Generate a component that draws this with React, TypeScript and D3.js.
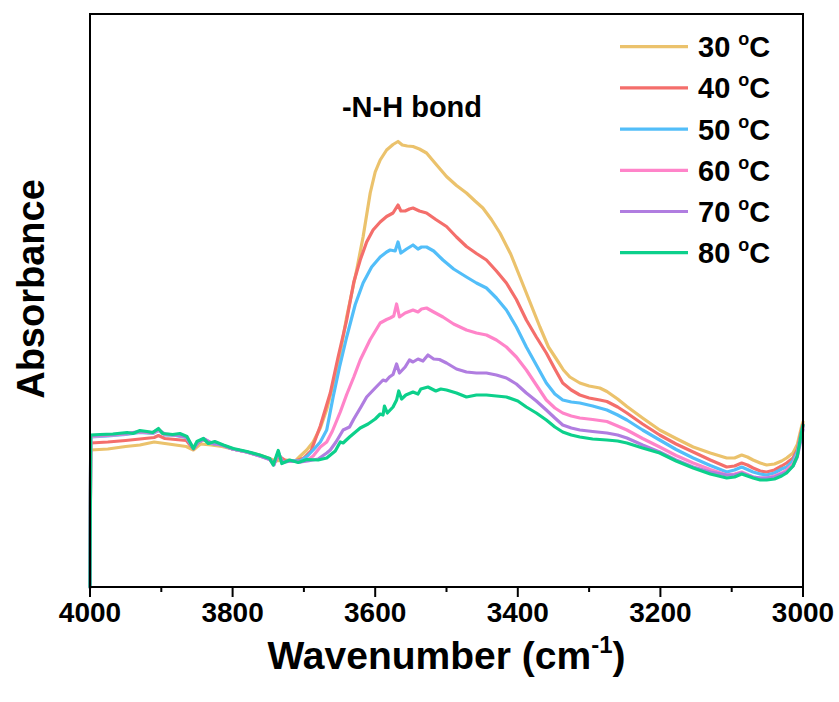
import React from "react";
import * as d3 from "d3";

type Pt = [number, number];

const seriesLabels = ["30", "40", "50", "60", "70", "80"];
const seriesColors = ["#EBC26C", "#F46E6B", "#52BEF9", "#FF84C9", "#B07DE0", "#0CD08B"];

const xTicksMajor = [4000, 3800, 3600, 3400, 3200, 3000];
const xTicksMinor = [3900, 3700, 3500, 3300, 3100];

const s30: Pt[] = [[4000,0],[3999,0.274],[3975,0.276],[3950,0.281],[3930,0.284],[3910,0.290],[3900,0.288],[3885,0.285],[3865,0.281],[3855,0.274],[3845,0.286],[3830,0.284],[3815,0.281],[3800,0.276],[3780,0.270],[3762,0.264],[3748,0.257],[3740,0.252],[3725,0.254],[3712,0.252],[3705,0.262],[3696,0.274],[3687,0.290],[3677,0.318],[3668,0.355],[3660,0.400],[3649,0.468],[3640,0.540],[3626,0.634],[3617,0.700],[3607,0.788],[3600,0.830],[3593,0.854],[3584,0.874],[3575,0.885],[3568,0.891],[3562,0.884],[3555,0.882],[3547,0.881],[3538,0.876],[3528,0.868],[3515,0.846],[3500,0.821],[3486,0.803],[3472,0.788],[3460,0.772],[3449,0.758],[3437,0.735],[3425,0.708],[3410,0.666],[3397,0.620],[3383,0.570],[3369,0.520],[3357,0.480],[3345,0.454],[3336,0.434],[3327,0.420],[3313,0.408],[3300,0.402],[3285,0.398],[3275,0.391],[3260,0.376],[3247,0.361],[3225,0.338],[3201,0.314],[3178,0.297],[3154,0.280],[3130,0.268],[3107,0.258],[3096,0.258],[3086,0.264],[3078,0.260],[3070,0.254],[3060,0.248],[3051,0.244],[3040,0.246],[3030,0.252],[3023,0.258],[3014,0.268],[3008,0.285],[3002,0.321],[3000,0.330]];

const s40: Pt[] = [[4000,0],[3999,0.288],[3975,0.290],[3950,0.293],[3930,0.296],[3910,0.299],[3904,0.303],[3895,0.297],[3880,0.295],[3865,0.293],[3855,0.276],[3848,0.289],[3840,0.295],[3830,0.287],[3815,0.284],[3800,0.276],[3780,0.270],[3762,0.263],[3748,0.256],[3742,0.248],[3735,0.262],[3725,0.252],[3712,0.252],[3700,0.258],[3690,0.272],[3677,0.322],[3663,0.388],[3652,0.460],[3640,0.534],[3630,0.610],[3621,0.654],[3612,0.690],[3603,0.714],[3593,0.730],[3584,0.741],[3575,0.748],[3568,0.764],[3564,0.752],[3558,0.752],[3552,0.756],[3547,0.758],[3538,0.752],[3528,0.748],[3515,0.735],[3500,0.721],[3486,0.700],[3472,0.681],[3458,0.667],[3444,0.654],[3430,0.632],[3416,0.608],[3402,0.575],[3388,0.534],[3374,0.500],[3360,0.468],[3348,0.436],[3337,0.408],[3325,0.394],[3313,0.384],[3300,0.378],[3285,0.374],[3275,0.371],[3260,0.360],[3247,0.348],[3225,0.326],[3201,0.304],[3178,0.286],[3154,0.270],[3130,0.254],[3107,0.240],[3096,0.242],[3086,0.248],[3078,0.244],[3070,0.238],[3060,0.232],[3051,0.230],[3040,0.234],[3030,0.242],[3023,0.248],[3014,0.258],[3008,0.275],[3002,0.314],[3000,0.325]];

const s50: Pt[] = [[4000,0],[3999,0.300],[3975,0.302],[3950,0.305],[3930,0.309],[3912,0.307],[3904,0.313],[3895,0.304],[3880,0.303],[3865,0.299],[3855,0.277],[3848,0.290],[3840,0.296],[3830,0.287],[3815,0.284],[3800,0.276],[3780,0.270],[3762,0.263],[3748,0.256],[3742,0.246],[3736,0.268],[3730,0.250],[3718,0.253],[3705,0.252],[3695,0.262],[3687,0.274],[3677,0.290],[3668,0.314],[3659,0.380],[3650,0.440],[3640,0.500],[3628,0.565],[3617,0.608],[3605,0.640],[3593,0.660],[3584,0.670],[3579,0.674],[3572,0.672],[3568,0.690],[3564,0.668],[3556,0.676],[3547,0.684],[3540,0.676],[3535,0.680],[3528,0.680],[3518,0.672],[3505,0.654],[3490,0.636],[3472,0.620],[3458,0.608],[3444,0.598],[3430,0.578],[3416,0.554],[3402,0.520],[3388,0.480],[3374,0.444],[3360,0.408],[3348,0.386],[3337,0.374],[3325,0.370],[3313,0.368],[3295,0.362],[3275,0.354],[3260,0.344],[3247,0.334],[3225,0.314],[3201,0.294],[3178,0.275],[3154,0.258],[3130,0.243],[3107,0.230],[3096,0.234],[3086,0.240],[3078,0.235],[3070,0.230],[3060,0.226],[3051,0.224],[3040,0.228],[3030,0.236],[3023,0.240],[3014,0.252],[3008,0.270],[3002,0.310],[3000,0.322]];

const s60: Pt[] = [[4000,0],[3999,0.301],[3975,0.303],[3950,0.306],[3930,0.310],[3912,0.308],[3904,0.314],[3895,0.305],[3880,0.304],[3865,0.300],[3855,0.278],[3848,0.291],[3840,0.296],[3830,0.288],[3815,0.284],[3800,0.276],[3780,0.270],[3762,0.262],[3748,0.255],[3742,0.245],[3736,0.266],[3730,0.250],[3718,0.252],[3705,0.250],[3695,0.254],[3687,0.262],[3677,0.280],[3668,0.290],[3660,0.312],[3649,0.350],[3640,0.385],[3630,0.420],[3621,0.454],[3607,0.495],[3593,0.528],[3584,0.535],[3579,0.538],[3574,0.542],[3570,0.566],[3566,0.540],[3558,0.548],[3547,0.554],[3540,0.550],[3535,0.556],[3528,0.558],[3518,0.550],[3505,0.540],[3490,0.526],[3472,0.514],[3458,0.508],[3444,0.504],[3430,0.494],[3416,0.480],[3402,0.460],[3388,0.434],[3374,0.404],[3360,0.374],[3348,0.358],[3337,0.348],[3325,0.342],[3313,0.338],[3295,0.335],[3275,0.331],[3260,0.322],[3247,0.314],[3225,0.297],[3201,0.280],[3178,0.263],[3154,0.248],[3130,0.235],[3107,0.224],[3096,0.226],[3086,0.230],[3078,0.225],[3070,0.220],[3060,0.218],[3051,0.218],[3040,0.222],[3030,0.228],[3023,0.234],[3014,0.246],[3008,0.265],[3002,0.308],[3000,0.320]];

const s70: Pt[] = [[4000,0],[3999,0.303],[3975,0.304],[3950,0.307],[3930,0.311],[3912,0.309],[3904,0.315],[3895,0.306],[3880,0.304],[3865,0.300],[3855,0.277],[3848,0.291],[3840,0.296],[3830,0.288],[3815,0.284],[3800,0.276],[3780,0.270],[3762,0.262],[3748,0.255],[3742,0.244],[3736,0.270],[3730,0.249],[3718,0.252],[3705,0.250],[3695,0.252],[3680,0.256],[3668,0.268],[3663,0.274],[3655,0.290],[3645,0.314],[3636,0.320],[3630,0.336],[3620,0.360],[3612,0.380],[3600,0.398],[3589,0.414],[3585,0.412],[3580,0.420],[3575,0.425],[3570,0.446],[3566,0.428],[3558,0.440],[3552,0.454],[3547,0.450],[3540,0.456],[3533,0.452],[3526,0.464],[3518,0.456],[3510,0.455],[3500,0.448],[3486,0.436],[3472,0.430],[3458,0.428],[3444,0.428],[3430,0.424],[3416,0.418],[3402,0.406],[3388,0.388],[3374,0.372],[3360,0.354],[3348,0.338],[3337,0.324],[3325,0.318],[3313,0.314],[3295,0.311],[3275,0.308],[3260,0.304],[3247,0.298],[3225,0.284],[3201,0.270],[3178,0.254],[3154,0.240],[3130,0.230],[3107,0.224],[3096,0.224],[3086,0.228],[3078,0.224],[3070,0.220],[3060,0.218],[3051,0.218],[3040,0.220],[3030,0.226],[3023,0.230],[3014,0.242],[3008,0.260],[3002,0.300],[3000,0.315]];

const s80: Pt[] = [[4000,0],[3999,0.304],[3986,0.305],[3968,0.306],[3948,0.309],[3940,0.307],[3930,0.313],[3920,0.311],[3912,0.309],[3904,0.317],[3898,0.307],[3884,0.305],[3874,0.307],[3864,0.301],[3855,0.277],[3850,0.291],[3841,0.297],[3834,0.287],[3825,0.291],[3813,0.284],[3799,0.277],[3780,0.271],[3762,0.264],[3748,0.257],[3743,0.244],[3736,0.273],[3731,0.247],[3720,0.254],[3708,0.249],[3696,0.255],[3680,0.254],[3668,0.258],[3656,0.272],[3649,0.290],[3645,0.288],[3636,0.300],[3621,0.318],[3610,0.326],[3600,0.336],[3593,0.346],[3589,0.344],[3587,0.362],[3583,0.348],[3575,0.360],[3570,0.374],[3567,0.392],[3563,0.376],[3557,0.384],[3547,0.390],[3540,0.386],[3536,0.396],[3526,0.400],[3515,0.392],[3508,0.396],[3500,0.394],[3486,0.388],[3472,0.380],[3458,0.384],[3444,0.384],[3430,0.382],[3416,0.380],[3400,0.372],[3388,0.360],[3374,0.348],[3360,0.334],[3348,0.320],[3337,0.310],[3325,0.304],[3313,0.300],[3295,0.296],[3275,0.294],[3260,0.292],[3247,0.288],[3225,0.278],[3201,0.268],[3178,0.252],[3154,0.238],[3130,0.226],[3107,0.218],[3096,0.220],[3086,0.226],[3078,0.222],[3070,0.218],[3060,0.214],[3051,0.214],[3040,0.216],[3030,0.222],[3023,0.228],[3014,0.242],[3008,0.262],[3002,0.310],[3000,0.324]];

const allSeries = [s30, s40, s50, s60, s70, s80];

const W = 839;
const H = 702;
const M = { left: 90, right: 803, top: 14, bottom: 587 };
const FONT = "'Liberation Sans', Arial, Helvetica, sans-serif";

export default function App() {
  const x = d3.scaleLinear().domain([4000, 3000]).range([M.left, M.right]);
  const y = d3.scaleLinear().domain([0, 1.146]).range([M.bottom, M.top]);
  const line = d3
    .line<Pt>()
    .x((d) => x(d[0]))
    .y((d) => y(d[1]));

  const legendY0 = 46.7;
  const legendStep = 41.2;

  return (
    <svg
      width={W}
      height={H}
      style={{ position: "absolute", left: 0, top: 0, background: "#fff" }}
      fontFamily={FONT}
    >
      <rect x={0} y={0} width={W} height={H} fill="#fff" />
      {allSeries.map((s, i) => (
        <path
          key={i}
          d={line(s) || ""}
          fill="none"
          stroke={seriesColors[i]}
          strokeWidth={3.2}
          strokeLinejoin="round"
          strokeLinecap="round"
        />
      ))}
      <rect
        x={M.left}
        y={M.top}
        width={M.right - M.left}
        height={M.bottom - M.top}
        fill="none"
        stroke="#000"
        strokeWidth={2}
      />
      {xTicksMajor.map((t) => (
        <g key={"M" + t}>
          <line x1={x(t)} x2={x(t)} y1={M.bottom} y2={M.bottom + 10} stroke="#000" strokeWidth={2} />
          <text x={x(t)} y={622} textAnchor="middle" fontSize={28} fontWeight="bold">
            {t}
          </text>
        </g>
      ))}
      {xTicksMinor.map((t) => (
        <line key={"m" + t} x1={x(t)} x2={x(t)} y1={M.bottom} y2={M.bottom + 5} stroke="#000" strokeWidth={2} />
      ))}
      <text x={(M.left + M.right) / 2} y={669} textAnchor="middle" fontSize={39} fontWeight="bold">
        Wavenumber (cm
        <tspan fontSize={24} dy={-16}>-1</tspan>
        <tspan dy={16}>)</tspan>
      </text>
      <text
        transform={`translate(44,289) rotate(-90)`}
        textAnchor="middle"
        fontSize={38}
        fontWeight="bold"
      >
        Absorbance
      </text>
      <text x={412} y={117} textAnchor="middle" fontSize={29} fontWeight="bold">
        -N-H bond
      </text>
      {seriesLabels.map((lab, i) => {
        const ly = legendY0 + i * legendStep;
        return (
          <g key={"l" + i}>
            <line x1={620} x2={688} y1={ly} y2={ly} stroke={seriesColors[i]} strokeWidth={3.2} />
            <text x={698} y={ly + 10.5} fontSize={29} fontWeight="bold">
              {lab + " "}
              <tspan fontSize={18} dy={-12}>o</tspan>
              <tspan dy={12}>C</tspan>
            </text>
          </g>
        );
      })}
    </svg>
  );
}
